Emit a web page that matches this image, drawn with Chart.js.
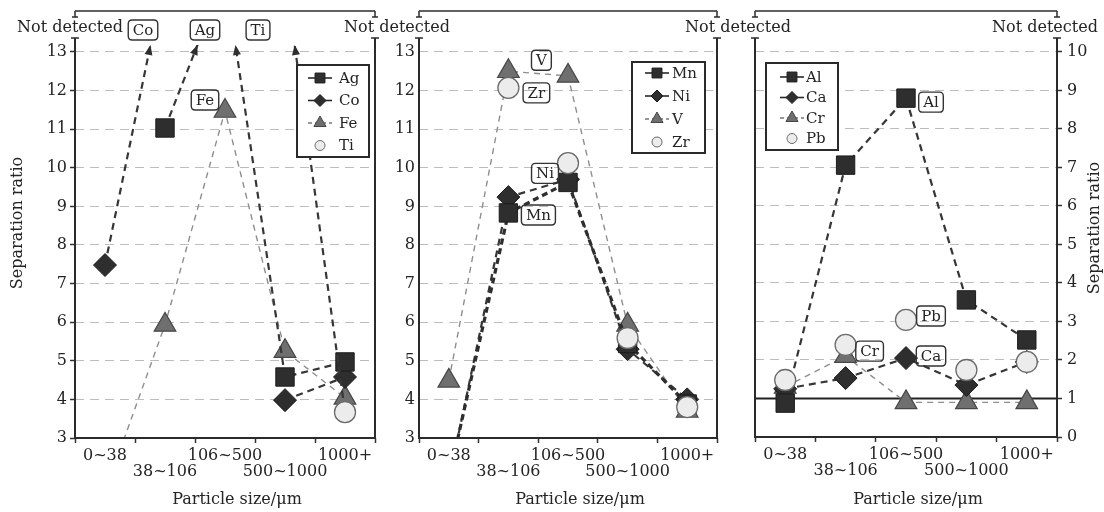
<!DOCTYPE html>
<html><head><meta charset="utf-8">
<script src="https://cdn.jsdelivr.net/npm/chart.js@4"></script>
<style>
html,body{margin:0;padding:0;background:#fff;}
#wrap{position:relative;width:1104px;height:512px;overflow:hidden;}
canvas{position:absolute;left:0;top:0;}
</style></head><body>
<div id="wrap">
<canvas id="c1" width="1104" height="512"></canvas>
<canvas id="c2" width="1104" height="512"></canvas>
<canvas id="c3" width="1104" height="512"></canvas>
</div>
<script>
// ---------- data ----------
const categories = ['0~38', '38~106', '106~500', '500~1000', '1000+'];
const ND = 'ND';            // "Not detected"
const ND_PLOT = 15;         // drawn off-scale (above the axis), clipped at the top

// left panel
const ag = [null, 11.03, ND, 4.58, 4.97];
const co = [7.48, ND, null, 3.98, 4.58];
const fe = [1.6, 5.93, 11.47, 5.25, 4.04];
const ti = [null, null, null, ND, 3.67];
// middle panel
const mn = [1.95, 8.83, 9.62, 5.45, 3.88];
const ni = [1.9, 9.24, 9.7, 5.3, 4.0];
const vv = [4.48, 12.5, 12.38, 5.93, 3.7];
const zr = [null, 12.07, 10.12, 5.59, 3.8];
// right panel
const al = [0.88, 7.06, 8.8, 3.56, 2.52];
const ca = [1.25, 1.53, 2.05, 1.35, 1.95];
const cr = [1.3, 2.1, 0.9, 0.9, 0.9];
const pb = [1.48, 2.39, 3.04, 1.74, 1.95];

const yTicksLeft = [3, 4, 5, 6, 7, 8, 9, 10, 11, 12, 13];
const yTicksRight = [0, 1, 2, 3, 4, 5, 6, 7, 8, 9, 10];
const refLineValue = 1;

// ---------- styles ----------
const FONT = "'DejaVu Serif', 'Liberation Serif', serif";
const INK = '#242424';
const MARK = {
  sq: {pointStyle: 'rect', pointRadius: 13, pointBackgroundColor: '#2e2e2e', pointBorderColor: '#1d1d1d', pointBorderWidth: 1, legendR: 7},
  di: {pointStyle: 'rectRot', pointRadius: 11.5, pointBackgroundColor: '#2e2e2e', pointBorderColor: '#1d1d1d', pointBorderWidth: 1, legendR: 6},
  tr: {pointStyle: 'triangle', pointRadius: 12.5, pointBackgroundColor: '#6f6f6f', pointBorderColor: '#474747', pointBorderWidth: 1.2, legendR: 7},
  ci: {pointStyle: 'circle', pointRadius: 10.5, pointBackgroundColor: '#ececec', pointBorderColor: '#6b6b6b', pointBorderWidth: 1.3, legendR: 5},
};
const DARK = {borderColor: '#363636', borderWidth: 2.2, borderDash: [7, 5], legendLine: 'solid'};
const BOLD = {borderColor: '#2e2e2e', borderWidth: 3.2, borderDash: [6, 4], legendLine: 'solid'};
const LIGHT = {borderColor: '#8e8e8e', borderWidth: 1.4, borderDash: [6, 5], legendLine: 'dash'};

function series(label, arr, mark, line, order, legendLine) {
  const d = Object.assign({
    label, src: arr,
    data: arr.map(v => v === ND ? ND_PLOT : v),
    order, fill: false, tension: 0, spanGaps: false,
    showLine: !!line, pointHoverRadius: MARK[mark].pointRadius
  }, MARK[mark], line || {borderColor: '#555', borderWidth: 0});
  if (legendLine !== undefined) d.legendLine = legendLine;
  if (!line) d.legendLine = null;
  return d;
}

const staggered = categories.map((c, i) => i % 2 ? ['', c] : c);

function drawMarker(ctx, style, x, y, r) {
  ctx.beginPath();
  if (style === 'rect') { const s = r * Math.SQRT1_2; ctx.rect(x - s, y - s, 2 * s, 2 * s); }
  else if (style === 'rectRot') { ctx.moveTo(x - r, y); ctx.lineTo(x, y - r); ctx.lineTo(x + r, y); ctx.lineTo(x, y + r); ctx.closePath(); }
  else if (style === 'triangle') { ctx.moveTo(x, y - r); ctx.lineTo(x + 0.866 * r, y + r / 2); ctx.lineTo(x - 0.866 * r, y + r / 2); ctx.closePath(); }
  else { ctx.arc(x, y, r, 0, Math.PI * 2); }
  ctx.fill(); ctx.stroke();
}
function seg(ctx, x1, y1, x2, y2) { ctx.beginPath(); ctx.moveTo(x1, y1); ctx.lineTo(x2, y2); ctx.stroke(); }
function roundRect(ctx, x, y, w, h, r) {
  ctx.beginPath();
  ctx.moveTo(x + r, y); ctx.lineTo(x + w - r, y); ctx.quadraticCurveTo(x + w, y, x + w, y + r);
  ctx.lineTo(x + w, y + h - r); ctx.quadraticCurveTo(x + w, y + h, x + w - r, y + h);
  ctx.lineTo(x + r, y + h); ctx.quadraticCurveTo(x, y + h, x, y + h - r);
  ctx.lineTo(x, y + r); ctx.quadraticCurveTo(x, y, x + r, y); ctx.closePath();
}

const deco = {
  id: 'deco',
  beforeDatasetsDraw(chart, args, o) {
    if (o.refLine == null) return;
    const {ctx, chartArea: a} = chart;
    const y = chart.scales.y.getPixelForValue(o.refLine);
    ctx.save(); ctx.strokeStyle = '#222'; ctx.lineWidth = 2; ctx.setLineDash([]);
    seg(ctx, a.left, y, a.right, y); ctx.restore();
  },
  afterDatasetsDraw(chart, args, o) {
    const {ctx, chartArea: a} = chart;
    const xs = chart.scales.x, ys = chart.scales.y;
    ctx.save();
    // arrowheads where "not detected" segments leave the plot
    chart.data.datasets.forEach(d => {
      if (!d.src) return;
      d.src.forEach((val, i) => {
        if (val !== ND) return;
        [i - 1, i + 1].forEach(j => {
          const nv = d.src[j];
          if (nv == null || nv === ND) return;
          const px = xs.getPixelForValue(j), py = ys.getPixelForValue(nv);
          const qx = xs.getPixelForValue(i), qy = ys.getPixelForValue(ND_PLOT);
          const t = (py - a.top) / (py - qy);
          const ax = px + t * (qx - px), ay = a.top;
          const ang = Math.atan2(qy - py, qx - px);
          const ux = Math.cos(ang), uy = Math.sin(ang), L = 10, W = 4;
          const bx = ax - L * ux, by = ay - L * uy;
          ctx.fillStyle = '#2e2e2e';
          ctx.beginPath(); ctx.moveTo(ax, ay);
          ctx.lineTo(bx - W * uy, by + W * ux); ctx.lineTo(bx + W * uy, by - W * ux);
          ctx.closePath(); ctx.fill();
        });
      });
    });
    // label boxes
    ctx.font = '15px ' + FONT; ctx.textAlign = 'center'; ctx.textBaseline = 'middle';
    (o.notes || []).forEach(n => {
      const d = chart.data.datasets.find(s => s.label === n.series);
      const val = d.src[n.index];
      const x = xs.getPixelForValue(n.index) + n.dx;
      const y = (val === ND ? a.top : ys.getPixelForValue(val)) + n.dy;
      const w = ctx.measureText(n.text).width + 9, h = 20;
      ctx.strokeStyle = '#333'; ctx.lineWidth = 1.4; ctx.setLineDash([]);
      roundRect(ctx, x - w / 2, y - h / 2, w, h, 4); ctx.stroke();
      ctx.fillStyle = INK; ctx.fillText(n.text, x, y + 1);
    });
    // legend
    const lg = o.legend;
    if (lg) {
      const L0 = a.left + lg.dx, T0 = a.top + lg.dy;
      ctx.fillStyle = '#fff'; ctx.fillRect(L0, T0, lg.w, lg.h);
      ctx.strokeStyle = '#2a2a2a'; ctx.lineWidth = 2; ctx.setLineDash([]);
      ctx.strokeRect(L0, T0, lg.w, lg.h);
      chart.data.datasets.forEach((d, i) => {
        const y = T0 + lg.first + i * lg.step, mx = L0 + lg.mx;
        if (d.legendLine) {
          ctx.save();
          ctx.strokeStyle = d.legendLine === 'dash' ? '#777' : '#2a2a2a';
          ctx.lineWidth = 1.6;
          ctx.setLineDash(d.legendLine === 'dash' ? [4, 3] : []);
          seg(ctx, mx - 12, y, mx + 12, y);
          ctx.restore();
        }
        ctx.fillStyle = d.pointBackgroundColor; ctx.strokeStyle = d.pointBorderColor; ctx.lineWidth = 1;
        drawMarker(ctx, d.pointStyle, mx, y, d.legendR);
        ctx.fillStyle = INK; ctx.font = '15px ' + FONT; ctx.textAlign = 'left'; ctx.textBaseline = 'middle';
        ctx.fillText(d.label, L0 + lg.tx, y + 1);
      });
    }
    ctx.restore();
  },
  afterDraw(chart, args, o) {
    const {ctx, chartArea: a} = chart;
    ctx.save();
    ctx.strokeStyle = '#2b2b2b'; ctx.lineWidth = 2; ctx.setLineDash([]);
    const capY = a.top - 7;
    seg(ctx, a.left, capY, a.left, a.bottom + 1);
    seg(ctx, a.right, capY, a.right, a.bottom + 1);
    seg(ctx, a.left - 1, a.bottom, a.right + 1, a.bottom);
    ctx.lineWidth = 1.5;
    seg(ctx, a.left - 4, capY, a.left + 4, capY);
    seg(ctx, a.right - 4, capY, a.right + 4, capY);
    // bracket on top
    const by = 11;
    seg(ctx, a.left, by, a.right, by);
    seg(ctx, a.left, by, a.left, by + 6);
    seg(ctx, a.right, by, a.right, by + 6);
    seg(ctx, a.left - 3, by + 6, a.left + 3, by + 6);
    seg(ctx, a.right - 3, by + 6, a.right + 3, by + 6);
    // "Not detected" labels
    ctx.fillStyle = INK; ctx.font = '16px ' + FONT; ctx.textAlign = 'center'; ctx.textBaseline = 'middle';
    (o.ndLabels || []).forEach(l => {
      const x = (l.edge === 'left' ? a.left : a.right) + l.dx;
      ctx.fillText('Not detected', x, 28);
    });
    // axis titles
    ctx.fillText('Particle size/\u03bcm', (a.left + a.right) / 2 + 12, 500);
    if (o.yTitle) {
      const x = (o.yTitle.edge === 'left' ? a.left : a.right) + o.yTitle.dx;
      ctx.save(); ctx.translate(x, o.yTitle.cy); ctx.rotate(-Math.PI / 2);
      ctx.fillText('Separation ratio', 0, 0); ctx.restore();
    }
    ctx.restore();
  }
};

function makeChart(id, datasets, pad, yOpts, xHeight, plug) {
  const yMin = yOpts.ticks[0], yTop = yOpts.ticks[yOpts.ticks.length - 1] + 0.18;
  return new Chart(document.getElementById(id), {
    type: 'line',
    data: {labels: staggered, datasets},
    options: {
      responsive: false, animation: false, devicePixelRatio: 1, events: [],
      layout: {padding: pad},
      plugins: {legend: {display: false}, tooltip: {enabled: false}, deco: plug},
      scales: {
        x: {
          type: 'category', offset: true,
          grid: {offset: true, drawOnChartArea: false, drawTicks: true, tickLength: 5, tickColor: '#333', tickWidth: 1.5},
          border: {display: false},
          ticks: {font: {family: FONT, size: 16, lineHeight: 1.0}, color: INK, padding: 5, maxRotation: 0, autoSkip: false},
          afterFit: s => { s.height = xHeight; }
        },
        y: {
          type: 'linear', position: yOpts.position, min: yMin, max: yTop,
          ticks: {stepSize: 1, includeBounds: false, font: {family: FONT, size: 16}, color: INK, padding: yOpts.pad},
          grid: {color: '#bdbdbd', lineWidth: 1, drawTicks: yOpts.drawTicks, tickLength: 5, tickColor: '#333', tickWidth: 1.5},
          border: {display: false, dash: [9, 6]},
          afterFit: s => { s.width = yOpts.width; }
        }
      }
    },
    plugins: [deco]
  });
}

// ---------- left panel ----------
makeChart('c1', [
  series('Ag', ag, 'sq', DARK, 1),
  series('Co', co, 'di', DARK, 2),
  series('Fe', fe, 'tr', LIGHT, 3),
  series('Ti', ti, 'ci', DARK, 0, null)
], {left: 0, right: 729, top: 45, bottom: 0},
{ticks: yTicksLeft, position: 'left', width: 75, pad: 3, drawTicks: true}, 74,
{
  legend: {dx: 222, dy: 20, w: 72, h: 92, first: 13, step: 22.5, mx: 23, tx: 42},
  notes: [
    {text: 'Co', series: 'Co', index: 1, dx: -22, dy: -15},
    {text: 'Ag', series: 'Ag', index: 2, dx: -20, dy: -15},
    {text: 'Ti', series: 'Ti', index: 3, dx: -27, dy: -15},
    {text: 'Fe', series: 'Fe', index: 2, dx: -20, dy: -11}
  ],
  ndLabels: [{edge: 'left', dx: -5}],
  yTitle: {edge: 'left', dx: -57, cy: 223}
});

// ---------- middle panel ----------
makeChart('c2', [
  series('Mn', mn, 'sq', BOLD, 1),
  series('Ni', ni, 'di', DARK, 2),
  series('V', vv, 'tr', LIGHT, 3),
  series('Zr', zr, 'ci', null, 0)
], {left: 379, right: 387, top: 45, bottom: 0},
{ticks: yTicksLeft, position: 'left', width: 40, pad: 4, drawTicks: false}, 74,
{
  legend: {dx: 213, dy: 17, w: 73, h: 91, first: 11, step: 23, mx: 25, tx: 40},
  notes: [
    {text: 'V', series: 'V', index: 1, dx: 33, dy: -11},
    {text: 'Zr', series: 'Zr', index: 1, dx: 28, dy: 5},
    {text: 'Ni', series: 'Ni', index: 2, dx: -23, dy: -6},
    {text: 'Mn', series: 'Mn', index: 1, dx: 30, dy: 2}
  ],
  ndLabels: [{edge: 'left', dx: -22}]
});

// ---------- right panel ----------
makeChart('c3', [
  series('Al', al, 'sq', DARK, 1),
  series('Ca', ca, 'di', DARK, 2),
  series('Cr', cr, 'tr', LIGHT, 3),
  series('Pb', pb, 'ci', null, 0)
], {left: 755, right: 0, top: 45, bottom: 0},
{ticks: yTicksRight, position: 'right', width: 47, pad: 5, drawTicks: true}, 75,
{
  legend: {dx: 11, dy: 18, w: 72, h: 87, first: 14, step: 20.5, mx: 26, tx: 40},
  notes: [
    {text: 'Al', series: 'Al', index: 2, dx: 25, dy: 4},
    {text: 'Pb', series: 'Pb', index: 2, dx: 25, dy: -4},
    {text: 'Cr', series: 'Cr', index: 1, dx: 24, dy: -5},
    {text: 'Ca', series: 'Ca', index: 2, dx: 25, dy: -2}
  ],
  refLine: refLineValue,
  ndLabels: [{edge: 'left', dx: -17}, {edge: 'right', dx: -12}],
  yTitle: {edge: 'right', dx: 38, cy: 228}
});
</script>
</body></html>
